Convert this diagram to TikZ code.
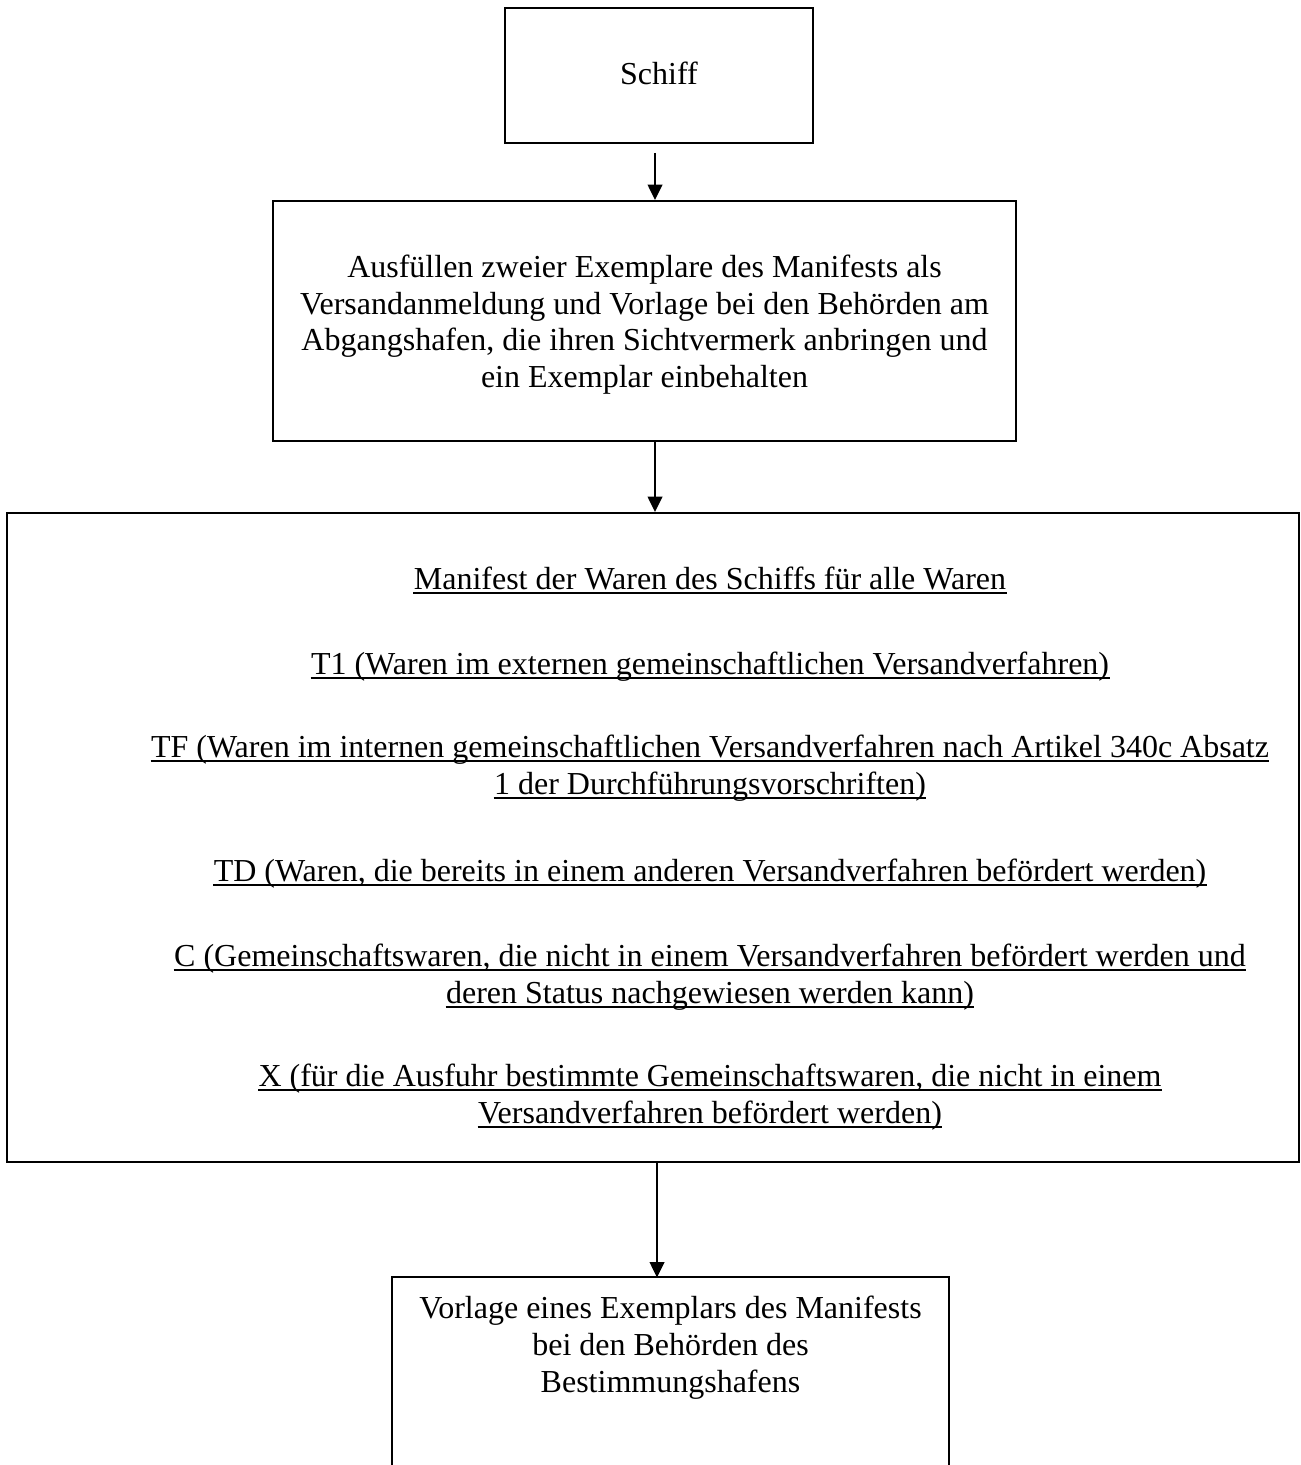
\documentclass[tikz,border=0pt]{standalone}
\usepackage{fontspec}
\setmainfont{Liberation Serif}
\usetikzlibrary{arrows.meta}
\begin{document}
\begin{tikzpicture}[x=0.375pt,y=-0.375pt,
  box/.style={draw,line width=0.75pt,inner sep=0pt},
  txt/.style={inner sep=0pt,anchor=base,font=\fontsize{12}{13.8}\selectfont},
  uline/.style={line width=0.7pt},
  arr/.style={line width=0.75pt,-{Triangle[width=5.5pt,length=5.8pt]}}]
\useasboundingbox (0,0) rectangle (1300,1465);
\fill[white] (0,0) rectangle (1300,1465);

% boxes
\node[box,minimum width=115.5pt,minimum height=50.625pt] (schiff) at (659,75.5) {};
\node[box,minimum width=278.625pt,minimum height=90pt] (ausf) at (644.5,321) {};
\node[box,minimum width=484.5pt,minimum height=243.375pt] (manif) at (653,837.5) {};
\node[inner sep=0pt,minimum width=208.125pt,minimum height=70.125pt] (vorl) at (670.5,1371.5) {};
\draw[line width=0.75pt] (vorl.south west) -- (vorl.north west) -- (vorl.north east) -- (vorl.south east);

% texts
\node[txt] (t0) at (659,85) {Schiff};

\node[txt] (t1) at (644.5,278) {Ausfüllen zweier Exemplare des Manifests als};
\node[txt] (t2) at (644.5,314.5) {Versandanmeldung und Vorlage bei den Behörden am};
\node[txt] (t3) at (644.5,351) {Abgangshafen, die ihren Sichtvermerk anbringen und};
\node[txt] (t4) at (644.5,387.5) {ein Exemplar einbehalten};

\node[txt] (m1) at (710,589) {Manifest der Waren des Schiffs für alle Waren};
\node[txt] (m2) at (710,674) {T1 (Waren im externen gemeinschaftlichen Versandverfahren)};
\node[txt] (m3) at (710,757) {TF (Waren im internen gemeinschaftlichen Versandverfahren nach Artikel 340c Absatz};
\node[txt] (m4) at (710,794) {1 der Durchführungsvorschriften)};
\node[txt] (m5) at (710,881) {TD (Waren, die bereits in einem anderen Versandverfahren befördert werden)};
\node[txt] (m6) at (710,966) {C (Gemeinschaftswaren, die nicht in einem Versandverfahren befördert werden und};
\node[txt] (m7) at (710,1003) {deren Status nachgewiesen werden kann)};
\node[txt] (m8) at (710,1086) {X (für die Ausfuhr bestimmte Gemeinschaftswaren, die nicht in einem};
\node[txt] (m9) at (710,1123) {Versandverfahren befördert werden)};
\foreach \n in {m1,m2,m3,m4,m5,m6,m7,m8,m9}
  \draw[uline] ([yshift=-1.6pt]\n.base west) -- ([yshift=-1.6pt]\n.base east);

\node[txt] (v1) at (670.5,1318) {Vorlage eines Exemplars des Manifests};
\node[txt] (v2) at (670.5,1355) {bei den Behörden des};
\node[txt] (v3) at (670.5,1392) {Bestimmungshafens};

% arrows
\coordinate (a1) at (655,153);
\coordinate (a2) at (655,441);
\coordinate (a3) at (657,1162);
\draw[arr] (a1) -- (a1 |- ausf.north);
\draw[arr] (a2) -- (a2 |- manif.north);
\draw[arr] (a3) -- (a3 |- vorl.north);
\end{tikzpicture}
\end{document}
